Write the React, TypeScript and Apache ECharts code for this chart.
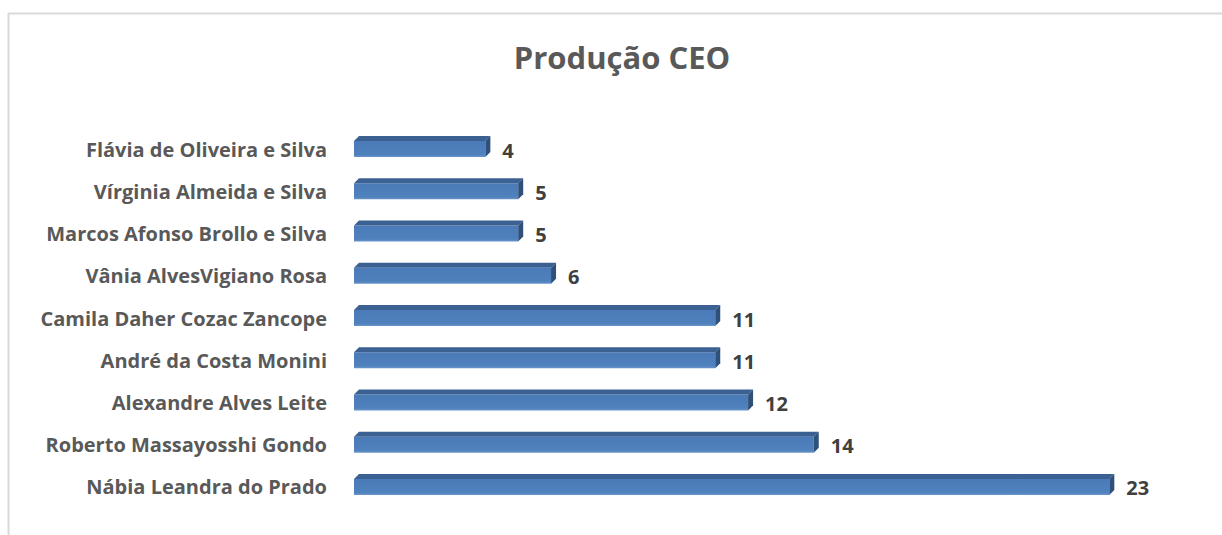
import React, { useEffect, useRef } from "react";
import * as echarts from "echarts";

const categories = [
  "Flávia de Oliveira e Silva",
  "Vírginia Almeida e Silva",
  "Marcos Afonso Brollo e Silva",
  "Vânia AlvesVigiano Rosa",
  "Camila Daher Cozac Zancope",
  "André da Costa Monini",
  "Alexandre Alves Leite",
  "Roberto Massayosshi Gondo",
  "Nábia Leandra do Prado",
];
const values = [4, 5, 5, 6, 11, 11, 12, 14, 23];
const titleText = "Produção CEO";

export default function App() {
  const ref = useRef<HTMLDivElement>(null);
  useEffect(() => {
    document.body.style.margin = "0";
    const chart = echarts.init(ref.current!, null, { renderer: "svg" });
    const FONT = "'Open Sans', 'Liberation Sans', sans-serif";
    const data = values.map((v, i) => [v, i]);
    chart.setOption({
      animation: false,
      backgroundColor: "#ffffff",
      graphic: [
        { type: "line", shape: { x1: 8, y1: 13.5, x2: 1222, y2: 13.5 }, style: { stroke: "#d9d9d9", lineWidth: 2 } },
        { type: "line", shape: { x1: 8.5, y1: 13, x2: 8.5, y2: 535 }, style: { stroke: "#d9d9d9", lineWidth: 2 } },
        {
          type: "text",
          x: 622,
          y: 57,
          style: {
            text: titleText,
            align: "center",
            verticalAlign: "middle",
            font: `bold 31px ${FONT}`,
            fill: "#595959",
          },
        },
      ],
      grid: { left: 354, right: 47, top: 128, bottom: 27, containLabel: false },
      xAxis: { type: "value", min: 0, max: 25, show: false },
      yAxis: {
        type: "category",
        data: categories,
        inverse: true,
        axisLine: { show: false },
        axisTick: { show: false },
        splitLine: { show: false },
        axisLabel: {
          margin: 27,
          fontFamily: FONT,
          fontSize: 20,
          fontWeight: "bold",
          color: "#595959",
        },
      },
      series: [
        {
          type: "custom",
          encode: { x: 0, y: 1 },
          data,
          renderItem: (params: any, api: any) => {
            const v = api.value(0);
            const idx = api.value(1);
            const s = api.coord([0, idx]);
            const e = api.coord([v, idx]);
            const h = 16;
            const d = 5;
            const x0 = s[0];
            const x1 = e[0];
            const yc = s[1];
            const yt = yc - h / 2;
            const yb = yc + h / 2;
            return {
              type: "group",
              children: [
                {
                  type: "rect",
                  shape: { x: x0, y: yt, width: x1 - x0, height: h },
                  style: {
                    fill: new echarts.graphic.LinearGradient(0, 0, 0, 1, [
                      { offset: 0, color: "#4a7bb8" },
                      { offset: 0.85, color: "#4f81bd" },
                      { offset: 1, color: "#6a95c9" },
                    ]),
                  },
                },
                {
                  type: "polygon",
                  shape: { points: [[x0, yt], [x1, yt], [x1 + d, yt - d], [x0 + d, yt - d]] },
                  style: { fill: "#3b6192" },
                },
                {
                  type: "polygon",
                  shape: { points: [[x1, yt], [x1 + d, yt - d], [x1 + d, yb - d], [x1, yb]] },
                  style: { fill: "#2f5079" },
                },
                {
                  type: "text",
                  style: {
                    text: String(v),
                    x: x1 + 17,
                    y: yc + 1,
                    verticalAlign: "middle",
                    align: "left",
                    font: `bold 20px ${FONT}`,
                    fill: "#404040",
                  },
                },
              ],
            };
          },
        },
      ],
    });
    return () => chart.dispose();
  }, []);
  return <div ref={ref} style={{ width: 1222, height: 535 }} />;
}
